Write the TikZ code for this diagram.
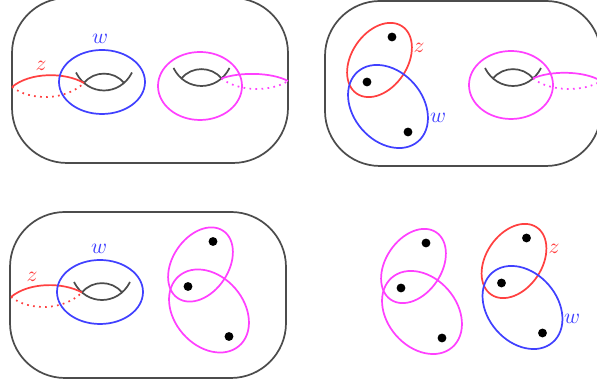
\documentclass[tikz,border=0pt]{standalone}
\definecolor{pinkish}{RGB}{255,64,255}

\begin{document}
\begin{tikzpicture}[x=4.65pt, y=4.65pt, thick,
    surface/.style={black!70, rounded corners=25.6pt},
    handle/.style={black!70},
    behind/.style={dotted}]
      \useasboundingbox (0, 0) rectangle (59.7, 38.4);

      \draw[surface] (1.2, 22.1) rectangle (28.8, 38.6);
      \draw[handle] (7.6, 31.15) .. controls (8.8, 28.75) and (12.0, 28.75) .. (13.2, 31.15);
      \draw[handle] (8.4, 30.1) .. controls (9.4, 31.35) and (11.4, 31.35) .. (12.4, 30.1);
      \draw[handle] (17.35, 31.6) .. controls (18.55, 29.2) and (21.75, 29.2) .. (22.95, 31.6);
      \draw[handle] (18.15, 30.55) .. controls (19.15, 31.8) and (21.15, 31.8) .. (22.15, 30.55);

      \draw[red!75] (1.2, 29.7) .. controls (3, 31.2) and (6.5, 31.2) .. (8.4, 30.1);
      \draw[red!75, behind] (1.2, 29.7) .. controls (3, 28.3) and (6.5, 28.3) .. (8.4, 30.1);
      \node[red!75] (z1) at (4.1, 31.8) {\( z \)};

      \draw[blue!75] (10.2, 30.2) ellipse (4.3 and 3.2);
      \node[blue!75] (w1) at (10.0, 34.5) {\( w \)};

      \draw[pinkish] (20.0, 29.8) ellipse (4.2 and 3.4);
      \draw[pinkish] (22.15, 30.55) .. controls (23.9, 31.2) and (27.1, 31.2) .. (28.8, 30.3);
      \draw[pinkish, behind] (22.15, 30.55) .. controls (23.9, 29.2) and (27.1, 29.2) .. (28.8, 30.3);

      \draw[surface] (32.5, 21.8) rectangle (60.1, 38.3);
      \draw[handle] (48.5, 31.6) .. controls (49.7, 29.2) and (52.9, 29.2) .. (54.1, 31.6);
      \draw[handle] (49.3, 30.55) .. controls (50.3, 31.8) and (52.3, 31.8) .. (53.3, 30.55);
      \draw[pinkish] (51.1, 29.9) ellipse (4.2 and 3.4);
      \draw[pinkish] (53.3, 30.55) .. controls (55.0, 31.35) and (58.4, 31.35) .. (60.1, 30.3);
      \draw[pinkish, behind] (53.3, 30.55) .. controls (55.0, 29.2) and (58.4, 29.2) .. (60.1, 30.3);

      \draw[red!75, rotate around={56:(37.95, 32.4)}] (37.95, 32.4) ellipse (4.06 and 2.79);
      \node[red!75] (z2) at (41.9, 33.6) {\( z \)};
      \draw[blue!75, rotate around={-49:(38.8, 27.75)}] (38.8, 27.75) ellipse (4.61 and 3.46);
      \node[blue!75] (w2) at (43.8, 26.6) {\( w \)};
      \filldraw [black] (39.2, 34.7) circle (0.35);
      \filldraw [black] (36.7, 30.2) circle (0.35);
      \filldraw [black] (40.8, 25.2) circle (0.35);

      \draw[surface] (1.0, 0.6) rectangle (28.6, 17.2);
      \draw[handle] (7.4, 10.2) .. controls (8.6, 7.8) and (11.8, 7.8) .. (13.0, 10.2);
      \draw[handle] (8.2, 9.15) .. controls (9.2, 10.4) and (11.2, 10.4) .. (12.2, 9.15);

      \draw[red!75] (1.1, 8.7) .. controls (2.9, 10.2) and (6.3, 10.2) .. (8.2, 9.15);
      \draw[red!75, behind] (1.1, 8.7) .. controls (2.9, 7.3) and (6.3, 7.3) .. (8.2, 9.15);
      \node[red!75] (z3) at (3.2, 10.7) {\( z \)};

      \draw[blue!75] (10.0, 9.2) ellipse (4.3 and 3.2);
      \node[blue!75] (w3) at (9.9, 13.5) {\( w \)};

      \draw[pinkish, rotate around={56:(20.05, 11.95)}] (20.05, 11.95) ellipse (4.06 and 2.79);
      \draw[pinkish, rotate around={-49:(20.9, 7.3)}] (20.9, 7.3) ellipse (4.61 and 3.46);
      \filldraw [black] (21.3, 14.25) circle (0.35);
      \filldraw [black] (18.8, 9.75) circle (0.35);
      \filldraw [black] (22.9, 4.75) circle (0.35);

      \draw[pinkish, rotate around={56:(41.35, 11.8)}] (41.35, 11.8) ellipse (4.06 and 2.79);
      \draw[pinkish, rotate around={-49:(42.2, 7.15)}] (42.2, 7.15) ellipse (4.61 and 3.46);
      \filldraw [black] (42.6, 14.1) circle (0.35);
      \filldraw [black] (40.1, 9.6) circle (0.35);
      \filldraw [black] (44.2, 4.6) circle (0.35);

      \draw[red!75, rotate around={56:(51.4, 12.3)}] (51.4, 12.3) ellipse (4.06 and 2.79);
      \node[red!75] (z4) at (55.4, 13.5) {\( z \)};
      \draw[blue!75, rotate around={-49:(52.25, 7.65)}] (52.25, 7.65) ellipse (4.61 and 3.46);
      \node[blue!75] (w4) at (57.2, 6.5) {\( w \)};
      \filldraw [black] (52.65, 14.6) circle (0.35);
      \filldraw [black] (50.15, 10.1) circle (0.35);
      \filldraw [black] (54.25, 5.1) circle (0.35);
    \end{tikzpicture}
\end{document}
